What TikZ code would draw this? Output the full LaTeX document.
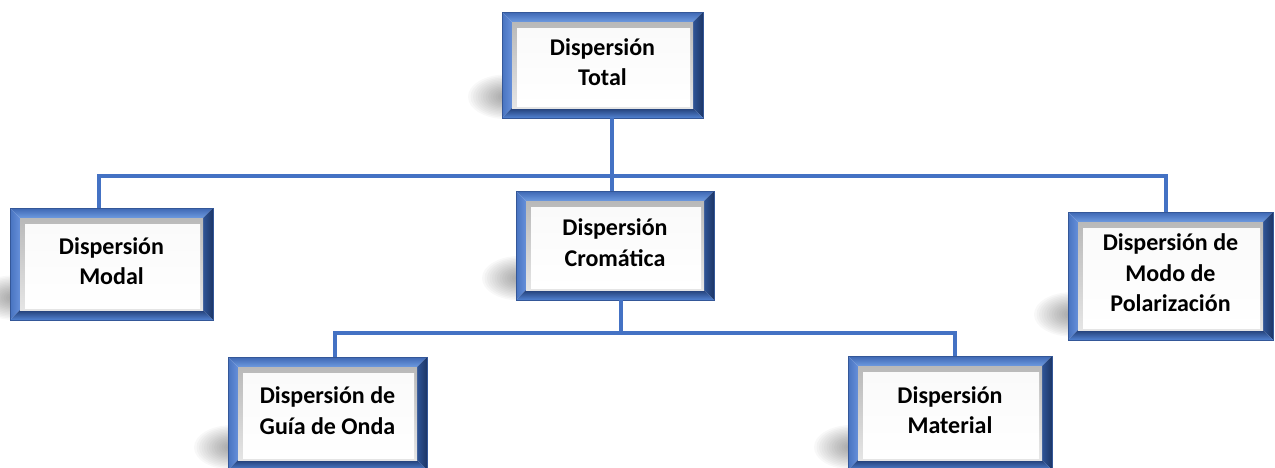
\documentclass[tikz,border=0pt]{standalone}
\usepackage{fontspec}
\setmainfont{Carlito}
\definecolor{conncol}{HTML}{4472C4}
\definecolor{frtopA}{HTML}{3D67B3}
\definecolor{frtopB}{HTML}{6E9AE0}
\definecolor{frleftA}{HTML}{4873C0}
\definecolor{frleftB}{HTML}{6690DA}
\definecolor{frrightA}{HTML}{2F5496}
\definecolor{frrightB}{HTML}{1C3666}
\definecolor{frbotA}{HTML}{223E76}
\definecolor{frbotB}{HTML}{5283D2}
\tikzset{
  conn/.style={draw=conncol, line width=4pt},
  boxnode/.style={rectangle, inner sep=0pt, draw=none},
  boxtext/.style={align=center, inner sep=0pt,
    font=\bfseries\fontsize{24}{30.5}\selectfont},
}
% Beveled blue frame with a soft cast shadow; #1 name, (#2,#3)-(#4,#5) corners, #6 text
\newcommand\bevbox[6]{%
  \pgfmathsetmacro\bxa{#2}\pgfmathsetmacro\bya{#3}%
  \pgfmathsetmacro\bxb{#4}\pgfmathsetmacro\byb{#5}%
  \pgfmathsetmacro\bh{\byb-\bya}%
  % soft shadow, built from stacked translucent ellipses
  \begin{scope}
    \clip (\bxa-60,\bya) rectangle (\bxa+12,\byb+6);
    \foreach \k in {1,...,14}{%
      \fill[black,opacity=0.028]
        (\bxa+4,\byb-0.2*\bh) ellipse [x radius={3+2.5*\k}, y radius={2+1.45*\k}];
    }%
  \end{scope}
  % frame facets
  \shade[top color=frtopA, bottom color=frtopB]
    (\bxa,\bya) -- (\bxb,\bya) -- (\bxb-10,\bya+10) -- (\bxa+10,\bya+10) -- cycle;
  \shade[left color=frleftA, right color=frleftB]
    (\bxa,\bya) -- (\bxa+10,\bya+10) -- (\bxa+10,\byb-10) -- (\bxa,\byb) -- cycle;
  \shade[left color=frrightA, right color=frrightB]
    (\bxb,\bya) -- (\bxb,\byb) -- (\bxb-10,\byb-10) -- (\bxb-10,\bya+10) -- cycle;
  \shade[top color=frbotA, bottom color=frbotB]
    (\bxa,\byb) -- (\bxb,\byb) -- (\bxb-10,\byb-10) -- (\bxa+10,\byb-10) -- cycle;
  \draw[frtopA!85!black, line width=0.7pt] (\bxa,\bya) rectangle (\bxb,\byb);
  % inner gray bevel and white face
  \shade[top color=gray!55, bottom color=gray!20] (\bxa+10,\bya+10) rectangle (\bxb-10,\byb-10);
  \shade[top color=white!96!gray, bottom color=white]
    (\bxa+15,\bya+16) rectangle (\bxb-13,\byb-12);
  \node[boxnode, minimum width=(\bxb-\bxa)*1pt, minimum height=\bh*1pt]
    (#1) at ({(\bxa+\bxb)/2},{(\bya+\byb)/2}) {};
  \node[boxtext] (#1-t) at ([yshift=3pt]#1.center) {#6};
}
\begin{document}
\begin{tikzpicture}[x=1pt,y=-1pt]
\useasboundingbox (0,0) rectangle (1275,467);

% junction points of the two buses
\coordinate (busA)  at (612,176);
\coordinate (busAL) at (99,176);
\coordinate (busAR) at (1166,176);
\coordinate (busB)  at (621,333);
\coordinate (busBL) at (335,333);
\coordinate (busBR) at (955,333);

\bevbox{tot}{502}{12}{703}{118}{Dispersión\\Total}
\bevbox{modal}{10}{208}{213}{320}{Dispersión\\Modal}
\bevbox{crom}{516}{191}{714}{300}{Dispersión\\Cromática}
\bevbox{pol}{1068}{212}{1273}{340}{Dispersión de\\Modo de\\Polarización}
\bevbox{guia}{228}{357}{427}{470}{Dispersión de\\Guía de Onda}
\bevbox{mat}{848}{356}{1052}{470}{Dispersión\\Material}

% connectors
\draw[conn] (tot.south -| busA) -- (crom.north -| busA);
\draw[conn] (modal.north -| busAL) -- (busAL) -- (busAR) -- (pol.north -| busAR);
\draw[conn] (crom.south -| busB) -- (busB);
\draw[conn] (guia.north -| busBL) -- (busBL) -- (busBR) -- (mat.north -| busBR);
\end{tikzpicture}
\end{document}
